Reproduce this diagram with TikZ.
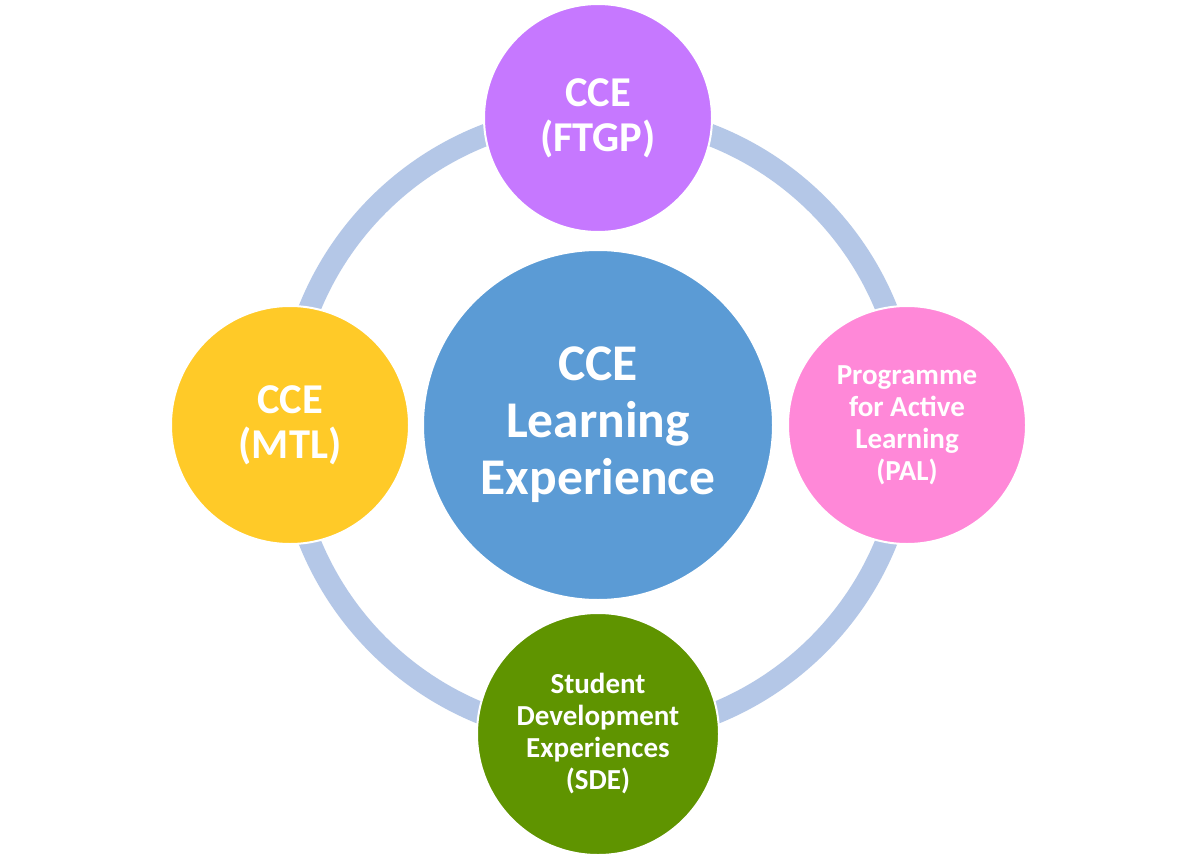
\documentclass[tikz,border=0pt]{standalone}
\usepackage{fontspec}
\setmainfont{Carlito}
\definecolor{ringc}{HTML}{B4C7E7}
\definecolor{cblue}{HTML}{5B9BD5}
\definecolor{cpurple}{HTML}{C678FF}
\definecolor{cyellow}{HTML}{FFCA28}
\definecolor{cpink}{HTML}{FF88D8}
\definecolor{cgreen}{HTML}{5F9400}
\begin{document}
\begin{tikzpicture}[x=1pt,y=-1pt,
  bub/.style={circle,draw=white,line width=2pt,inner sep=0pt,align=center,text=white,font=\bfseries},
  big/.style={font=\fontsize{51.5}{57}\selectfont\bfseries},
  mid/.style={font=\fontsize{42.5}{45}\selectfont\bfseries},
  sml/.style={font=\fontsize{29}{32}\selectfont\bfseries}]
\useasboundingbox (0,0) rectangle (1197,856);
\fill[white] (0,0) rectangle (1197,856);
\coordinate (o) at (598,425);
\draw[ringc,line width=22pt] (o) circle[radius=311];
\node[bub,fill=cblue,minimum size=350pt,big] (c) at (598,425) {CCE\\Learning\\Experience};
\node[bub,fill=cpurple,minimum size=228pt,mid] (t) at (598,118) {CCE\\(FTGP)};
\node[bub,fill=cyellow,minimum size=238pt,mid] (l) at (290,425) {CCE\\(MTL)};
\node[bub,fill=cpink,minimum size=238pt,sml] (r) at (907,425) {Programme\\for Active\\Learning\\(PAL)};
\node[bub,fill=cgreen,minimum size=242pt,sml] (b) at (598,734) {Student\\Development\\Experiences\\(SDE)};
\end{tikzpicture}
\end{document}
